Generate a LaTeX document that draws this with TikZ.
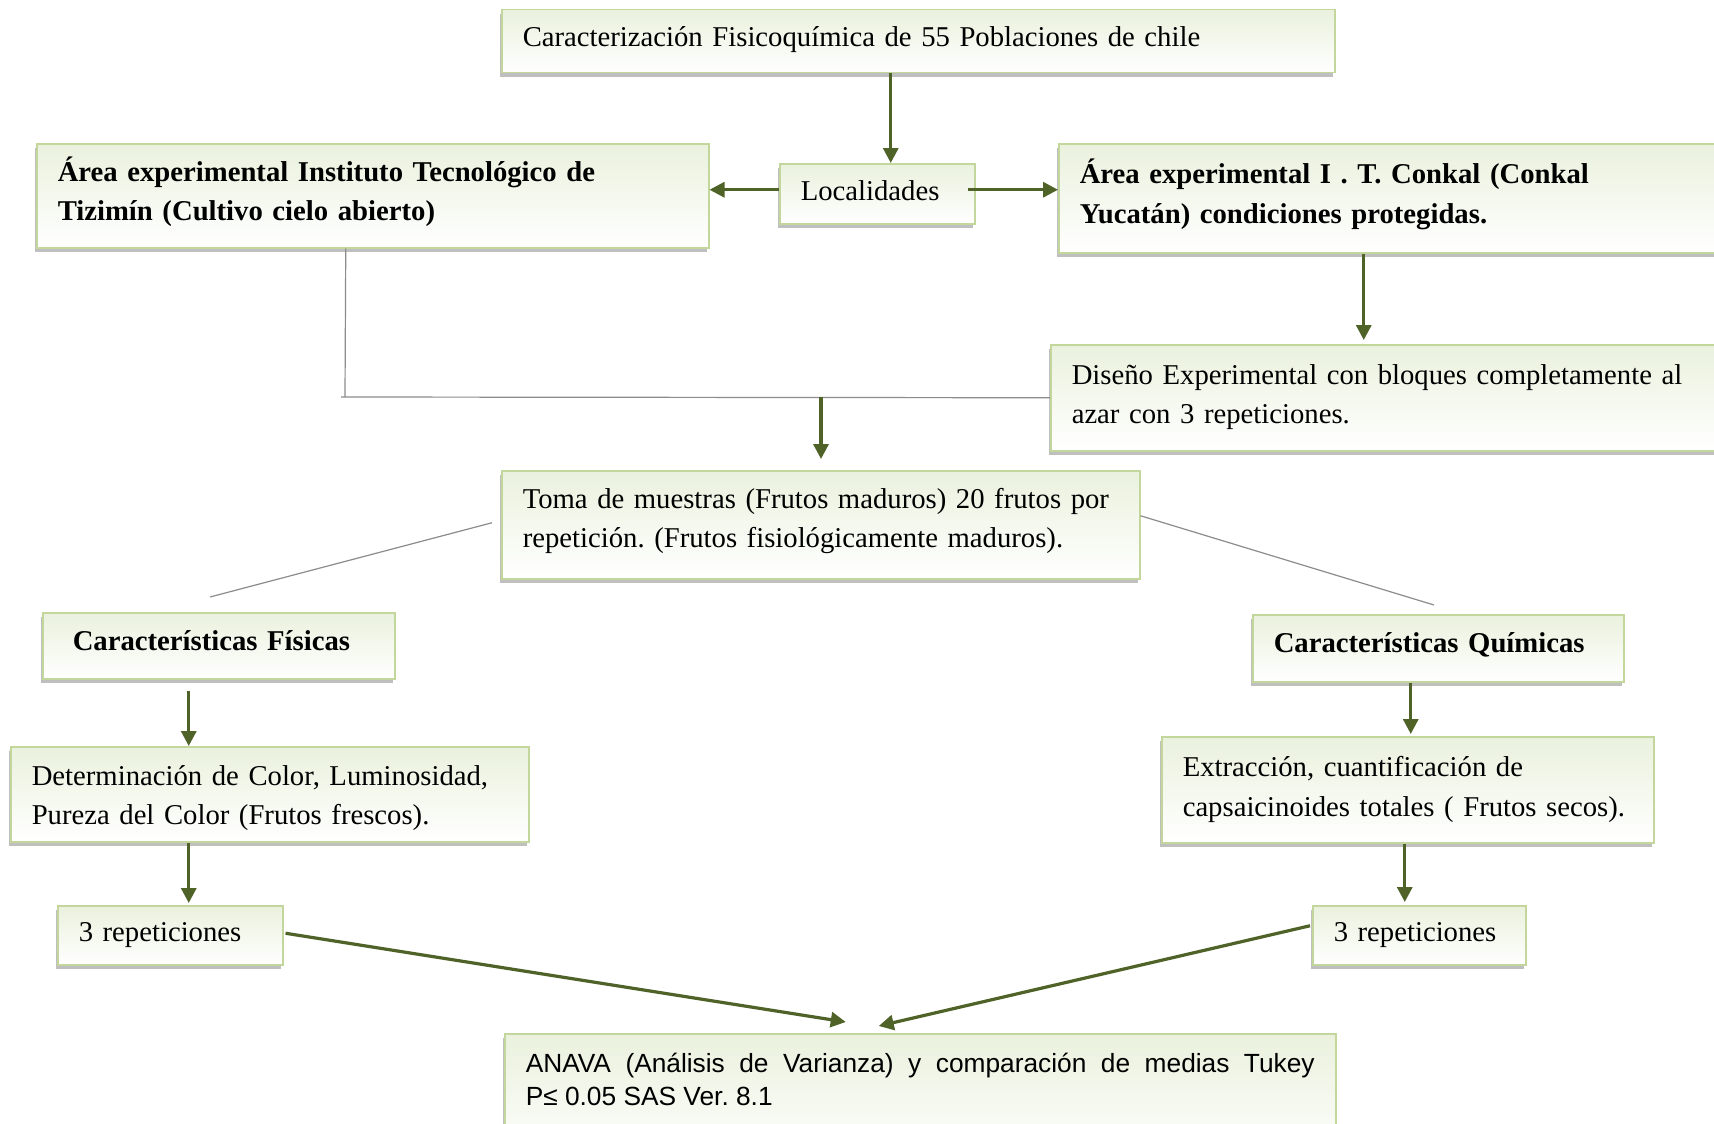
\documentclass[tikz,border=0pt]{standalone}
\usepackage{fontspec}
\setmainfont{Liberation Serif}
\newfontfamily\arialf{Liberation Sans}
\usetikzlibrary{arrows.meta,shadows}
\frenchspacing
\definecolor{boxline}{HTML}{C3D69B}
\definecolor{boxtop}{HTML}{EAF1DD}
\definecolor{arrowc}{HTML}{4F6228}
\definecolor{shadowc}{HTML}{BFBFBF}
\tikzset{
  box/.style={draw=boxline, line width=1.5pt, top color=boxtop, bottom color=white,
    drop shadow={shadow xshift=-2pt, shadow yshift=-4pt, fill=shadowc, opacity=1},
    anchor=north west, align=left, inner xsep=21pt, inner ysep=0pt,
    font=\fontsize{28.7}{39.5}\selectfont,
    execute at end node={\rule[-7pt]{0pt}{0pt}}},
  padbot/.style={execute at end node={\rule[-#1pt]{0pt}{0pt}}},
  padtop/.style={execute at begin node={\rule{0pt}{#1pt}}},
  arr/.style={draw=arrowc, line width=3.2pt, -{Triangle[length=15pt,width=15pt]}},
  thinline/.style={draw=gray!90, line width=1.2pt}
}
\begin{document}
\begin{tikzpicture}[x=1pt,y=-1pt]
\useasboundingbox (0,0) rectangle (1714,1124);
\clip (0,0) rectangle (1714,1124);
\fill[white] (0,0) rectangle (1714,1124);

\node[box, padbot=9, minimum width=833pt, minimum height=63pt, text width=791pt] (top) at (501,9)
  {Caracterización Fisicoquímica de 55 Poblaciones de chile};
\node[box, padbot=14, minimum width=672pt, minimum height=104pt, text width=630pt] (left) at (36,143)
  {\textbf{Área experimental Instituto Tecnológico de}\\\textbf{Tizimín (Cultivo cielo abierto)}};
\node[box, minimum width=195pt, minimum height=60pt, text width=153pt] (loc) at (779,163)
  {Localidades};
\node[box, padbot=14, minimum width=680pt, minimum height=109pt, text width=638pt] (right) at (1058,143)
  {\textbf{Área experimental I . T. Conkal (Conkal}\\\textbf{Yucatán) condiciones protegidas.}};
\node[box, minimum width=690pt, minimum height=106pt, text width=648pt] (dis) at (1050,344)
  {Diseño Experimental con bloques completamente al\\azar con 3 repeticiones.};
\node[box, padbot=14, minimum width=638pt, minimum height=108pt, text width=596pt] (toma) at (501,470)
  {Toma de muestras (Frutos maduros) 20 frutos por\\repetición. (Frutos fisiológicamente maduros).};
\node[box, padbot=11, inner xsep=30pt, minimum width=352pt, minimum height=66pt, text width=292pt] (fis) at (42,612)
  {\textbf{Características Físicas}};
\node[box, padbot=11, minimum width=371pt, minimum height=67pt, text width=329pt] (qui) at (1252,614)
  {\textbf{Características Químicas}};
\node[box, padtop=28, padbot=0, minimum width=518pt, minimum height=95pt, text width=476pt] (det) at (10,746)
  {Determinación de Color, Luminosidad,\\Pureza del Color (Frutos frescos).};
\node[box, minimum width=492pt, minimum height=106pt, text width=450pt] (ext) at (1161,736)
  {Extracción, cuantificación de\\capsaicinoides totales ( Frutos secos).};
\node[box, minimum width=225pt, minimum height=59pt, text width=183pt] (rep1) at (57,905)
  {3 repeticiones};
\node[box, minimum width=213pt, minimum height=59pt, text width=171pt] (rep2) at (1312,905)
  {3 repeticiones};
\node[box, minimum width=831pt, minimum height=132pt, text width=789pt, align=justify,
  font=\arialf\fontsize{26.3}{33}\selectfont, execute at end node={}] (anava) at (504,1033)
  {ANAVA (Análisis de Varianza) y comparación de medias Tukey\linebreak P≤ 0.05 SAS Ver. 8.1\par};

% connectors
\draw[arr] ([xshift=-27.5pt]top.south) -- ([xshift=-27.5pt]top.south |- loc.north);
\draw[arr] ([yshift=4pt]loc.west) -- ([yshift=4pt]loc.west -| left.east);
\draw[arr] ([xshift=-8pt,yshift=4pt]loc.east) -- ([yshift=4pt]loc.east -| right.west);
\draw[arr] ([xshift=-35pt]right.south) -- ([xshift=-35pt,yshift=4pt]right.south |- dis.north);

\coordinate (j1) at (345,397);
\coordinate (j2) at (341,397);
\coordinate (m) at (821,397);
\draw[thinline] ([xshift=-27pt]left.south) -- (j1);
\draw[thinline] (dis.west) -- (j2);
\draw[arr] (m) -- ([yshift=11pt]m |- toma.north);

\coordinate (cf) at (210,597);
\coordinate (cq) at (1434,605);
\draw[thinline] ([xshift=-9pt,yshift=2pt]toma.west) -- (cf);
\draw[thinline] ([yshift=9pt]toma.east) -- (cq);

\draw[arr] ([xshift=-30pt,yshift=-11pt]fis.south) -- ([xshift=-30pt]fis.south |- det.north);
\draw[arr] ([xshift=-81pt]det.south) -- ([xshift=-81pt,yshift=2pt]det.south |- rep1.north);
\draw[arr] ([xshift=-27.5pt]qui.south) -- ([xshift=-27.5pt,yshift=2pt]qui.south |- ext.north);
\draw[arr] ([xshift=-3pt]ext.south) -- ([xshift=-3pt,yshift=3pt]ext.south |- rep2.north);

\coordinate (a1) at ([xshift=-74.5pt,yshift=11pt]anava.north);
\coordinate (a2) at ([xshift=-41.5pt,yshift=7pt]anava.north);
\draw[arr] ([xshift=2pt,yshift=2pt]rep1.east) -- (a1);
\draw[arr] ([xshift=-2pt,yshift=9.5pt]rep2.west) -- (a2);
\end{tikzpicture}
\end{document}
